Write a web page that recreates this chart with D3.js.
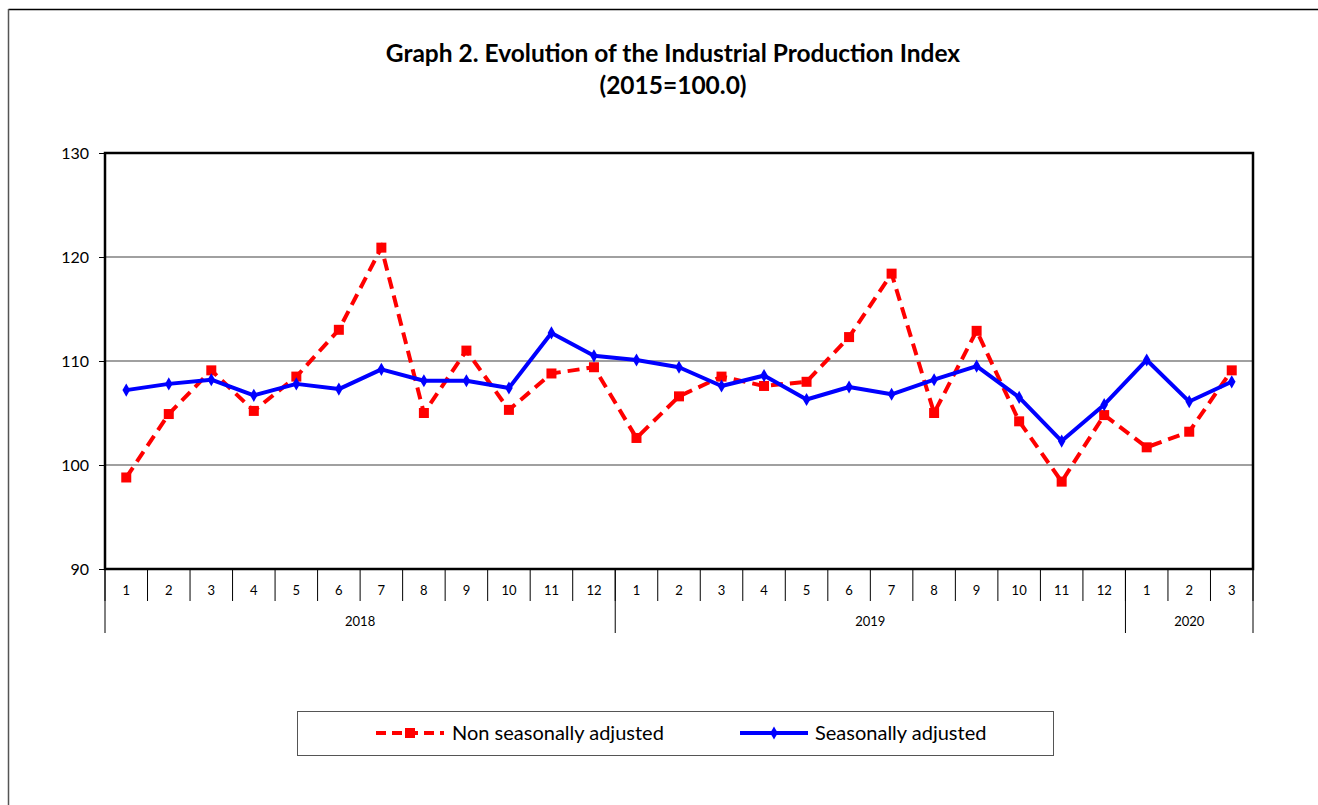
<!DOCTYPE html>
<html>
<head>
<meta charset="utf-8">
<script src="https://cdn.jsdelivr.net/npm/d3@7"></script>
<style>
  body { margin: 0; background: #fff; }
  svg { display: block; font-family: Lato, "Open Sans", sans-serif; }
</style>
</head>
<body>
<div id="chart"></div>
<script>
// months and years on the x axis
let months = [1,2,3,4,5,6,7,8,9,10,11,12, 1,2,3,4,5,6,7,8,9,10,11,12, 1,2,3];
let years = [
  {label: "2018", count: 12},
  {label: "2019", count: 12},
  {label: "2020", count: 3}
];
let yTicks = [90, 100, 110, 120, 130];

// series values
let nonAdjusted = [98.8, 104.9, 109.1, 105.2, 108.5, 113.0, 120.9, 105.0, 111.0, 105.3, 108.8, 109.4,
                   102.6, 106.6, 108.5, 107.6, 108.0, 112.3, 118.4, 105.0, 112.9, 104.2, 98.4, 104.8,
                   101.7, 103.2, 109.1];
let adjusted = [107.2, 107.8, 108.2, 106.7, 107.8, 107.3, 109.2, 108.1, 108.1, 107.4, 112.7, 110.5,
                110.1, 109.4, 107.6, 108.6, 106.3, 107.5, 106.8, 108.2, 109.5, 106.5, 102.3, 105.8,
                110.1, 106.1, 108.0];

let W = 1318, H = 805;
let plotLeft = 105, plotRight = 1253, plotTop = 153, plotBottom = 569;

var svg = d3.select("#chart").append("svg")
    .attr("width", W)
    .attr("height", H);

// outer chart frame (only top and left show)
svg.append("line").attr("x1", 8.5).attr("y1", 9.5).attr("x2", W).attr("y2", 9.5)
    .attr("stroke", "#000").attr("stroke-width", 1.5);
svg.append("line").attr("x1", 8.5).attr("y1", 9).attr("x2", 8.5).attr("y2", H)
    .attr("stroke", "#555").attr("stroke-width", 1.5);

// title
svg.append("text")
    .attr("x", 673).attr("y", 62)
    .attr("text-anchor", "middle")
    .style("font-weight", "bold").style("font-size", "24.5px")
    .text("Graph 2. Evolution of the Industrial Production Index");
svg.append("text")
    .attr("x", 673).attr("y", 94)
    .attr("text-anchor", "middle")
    .style("font-weight", "bold").style("font-size", "24.5px")
    .text("(2015=100.0)");

let idx = d3.range(months.length);
let x = d3.scaleBand()
    .domain(idx)
    .range([plotLeft, plotRight]);
let y = d3.scaleLinear()
    .domain([90, 130])
    .range([plotBottom, plotTop]);

// gridlines
svg.append("g")
    .selectAll("line")
    .data(yTicks.filter(t => t != 90 && t != 130))
    .join("line")
    .attr("x1", plotLeft).attr("x2", plotRight)
    .attr("y1", d => y(d)).attr("y2", d => y(d))
    .attr("stroke", "#808080").attr("stroke-width", 1.3);

// y axis
let yAxis = svg.append("g")
    .attr("transform", "translate(" + plotLeft + ",0)")
    .call(d3.axisLeft(y).tickValues(yTicks).tickSize(6).tickPadding(10));
yAxis.select(".domain").remove();
yAxis.selectAll("line").attr("stroke", "#000");
yAxis.selectAll("text").style("font-size", "16px").style("font-family", "Lato, sans-serif").attr("fill", "#000");

// month row with separators
let xg = svg.append("g");
xg.selectAll("line.sep")
    .data(d3.range(months.length + 1))
    .join("line")
    .attr("class", "sep")
    .attr("x1", d => plotLeft + d * x.step()).attr("x2", d => plotLeft + d * x.step())
    .attr("y1", plotBottom).attr("y2", plotBottom + 32)
    .attr("stroke", "#000").attr("stroke-width", 1);
xg.selectAll("text.month")
    .data(idx)
    .join("text")
    .attr("class", "month")
    .attr("x", d => x(d) + x.bandwidth() / 2)
    .attr("y", 595)
    .attr("text-anchor", "middle")
    .style("font-size", "13px")
    .text(d => months[d]);

// year row
let start = 0;
let yearPos = years.map(yr => {
    let p = {label: yr.label, from: start, to: start + yr.count};
    start += yr.count;
    return p;
});
let bounds = [0].concat(yearPos.map(p => p.to));
xg.selectAll("line.yr")
    .data(bounds)
    .join("line")
    .attr("class", "yr")
    .attr("x1", d => plotLeft + d * x.step()).attr("x2", d => plotLeft + d * x.step())
    .attr("y1", plotBottom).attr("y2", 633)
    .attr("stroke", "#000").attr("stroke-width", 1);
xg.selectAll("text.year")
    .data(yearPos)
    .join("text")
    .attr("class", "year")
    .attr("x", d => plotLeft + (d.from + d.to) / 2 * x.step())
    .attr("y", 626)
    .attr("text-anchor", "middle")
    .style("font-size", "13px")
    .text(d => d.label);

// plot frame
svg.append("rect")
    .attr("x", plotLeft).attr("y", plotTop)
    .attr("width", plotRight - plotLeft).attr("height", plotBottom - plotTop)
    .attr("fill", "none").attr("stroke", "#000").attr("stroke-width", 2.5);

let line = d3.line()
    .x((d, i) => x(i) + x.bandwidth() / 2)
    .y(d => y(d));

// non seasonally adjusted
svg.append("path")
    .datum(nonAdjusted)
    .attr("d", line)
    .attr("fill", "none")
    .attr("stroke", "#ff0000")
    .attr("stroke-width", 4)
    .attr("stroke-dasharray", "12,7");
svg.append("g")
    .selectAll("rect")
    .data(nonAdjusted)
    .join("rect")
    .attr("x", (d, i) => x(i) + x.bandwidth() / 2 - 5)
    .attr("y", d => y(d) - 5)
    .attr("width", 10).attr("height", 10)
    .attr("fill", "#ff0000");

// seasonally adjusted
svg.append("path")
    .datum(adjusted)
    .attr("d", line)
    .attr("fill", "none")
    .attr("stroke", "#0000ff")
    .attr("stroke-width", 4)
    .attr("stroke-linejoin", "round");
let diamond = d3.symbol().type(d3.symbolDiamond).size(50);
svg.append("g")
    .selectAll("path")
    .data(adjusted)
    .join("path")
    .attr("d", diamond)
    .attr("transform", (d, i) => "translate(" + (x(i) + x.bandwidth() / 2) + "," + y(d) + ")")
    .attr("fill", "#0000ff");

// legend
let lg = svg.append("g");
lg.append("rect")
    .attr("x", 297.5).attr("y", 711.5)
    .attr("width", 756).attr("height", 44)
    .attr("fill", "#fff").attr("stroke", "#555").attr("stroke-width", 1);
lg.append("line")
    .attr("x1", 376).attr("x2", 444).attr("y1", 733).attr("y2", 733)
    .attr("stroke", "#ff0000").attr("stroke-width", 4).attr("stroke-dasharray", "10,6");
lg.append("rect")
    .attr("x", 405).attr("y", 728).attr("width", 10).attr("height", 10)
    .attr("fill", "#ff0000");
lg.append("text")
    .attr("x", 452).attr("y", 740)
    .style("font-size", "20px")
    .text("Non seasonally adjusted");
lg.append("line")
    .attr("x1", 740).attr("x2", 808).attr("y1", 733).attr("y2", 733)
    .attr("stroke", "#0000ff").attr("stroke-width", 4);
lg.append("path")
    .attr("d", diamond)
    .attr("transform", "translate(774,733)")
    .attr("fill", "#0000ff");
lg.append("text")
    .attr("x", 815).attr("y", 740)
    .style("font-size", "20px")
    .text("Seasonally adjusted");
</script>
</body>
</html>
